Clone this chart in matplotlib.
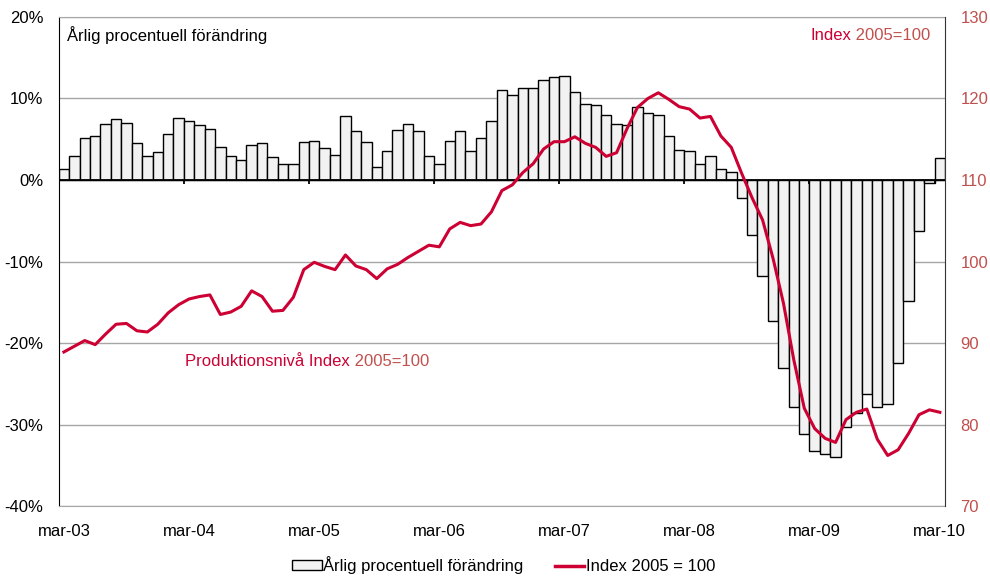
import numpy as np
import matplotlib
matplotlib.use("Agg")
import matplotlib.pyplot as plt
from matplotlib.patches import Patch
from matplotlib.lines import Line2D

plt.rcParams['font.family'] = ['Liberation Sans', 'DejaVu Sans']
plt.rcParams['font.size'] = 12

# Data: monthly values mar-03 .. mar-10
tick_labels = ['mar-03', 'mar-04', 'mar-05', 'mar-06', 'mar-07', 'mar-08', 'mar-09', 'mar-10']

arlig_forandring = [
    1.3, 3.0, 5.1, 5.4, 6.9, 7.5, 7.0, 4.5, 2.9, 3.4, 5.7, 7.6,
    7.2, 6.8, 6.3, 4.1, 3.0, 2.5, 4.3, 4.5, 2.8, 2.0, 2.0, 4.7,
    4.8, 3.9, 3.1, 7.8, 6.0, 4.7, 1.6, 3.6, 6.1, 6.9, 6.0, 3.0,
    2.0, 4.8, 6.0, 3.6, 5.2, 7.3, 11.1, 10.4, 11.3, 11.3, 12.3, 12.6,
    12.7, 10.8, 9.3, 9.2, 8.0, 6.9, 6.7, 8.9, 8.2, 7.95, 5.4, 3.7,
    3.5, 2.0, 2.95, 1.3, 0.95, -2.25, -6.8, -11.8, -17.3, -23.1, -27.8, -31.2,
    -33.2, -33.6, -34.0, -30.3, -28.6, -26.3, -27.8, -27.5, -22.5, -14.8, -6.2, -0.4,
    2.7,
]

index_2005 = [
    88.9, 89.6, 90.3, 89.8, 91.1, 92.3, 92.4, 91.5, 91.35, 92.3, 93.7, 94.7,
    95.4, 95.7, 95.9, 93.5, 93.8, 94.5, 96.4, 95.7, 93.9, 94.0, 95.6, 99.0,
    99.9, 99.4, 99.0, 100.8, 99.45, 99.0, 97.9, 99.1, 99.65, 100.5, 101.25, 102.0,
    101.8, 104.0, 104.8, 104.4, 104.6, 106.1, 108.7, 109.4, 110.9, 112.0, 113.8, 114.7,
    114.7, 115.3, 114.5, 114.0, 112.9, 113.35, 116.3, 118.9, 120.0, 120.7, 119.9, 119.0,
    118.7, 117.6, 117.8, 115.4, 114.0, 110.8, 107.8, 105.1, 100.4, 94.9, 87.9, 82.0,
    79.5, 78.3, 77.8, 80.6, 81.5, 81.9, 78.2, 76.2, 76.9, 78.9, 81.2, 81.8,
    81.5,
]

RED = '#CC0033'
SALMON = '#C0504D'
GRID = '#A6A6A6'

x = np.arange(len(arlig_forandring))

fig = plt.figure(figsize=(9.9, 5.76), dpi=100)
ax = fig.add_axes([0.0593, 0.1215, 0.8953, 0.849])
ax2 = ax.twinx()

# Bars
ax.bar(x, arlig_forandring, width=1.0, color='#F2F2F2', edgecolor='black', linewidth=1.0, zorder=2)
ax.set_xlim(-0.5, len(x) - 0.5)
ax.set_ylim(-40, 20)
ax.set_yticks(np.arange(-40, 21, 10))
ax.set_yticklabels([f'{v}%' for v in range(-40, 21, 10)])
ax.set_axisbelow(True)
ax.grid(axis='y', color=GRID, linewidth=1.0)
ax.set_xticks(x[::12])
ax.set_xticklabels(tick_labels)
ax.tick_params(axis='x', length=0, pad=13)
ax.tick_params(axis='y', length=0, pad=11)

# zero line with year ticks
ax.axhline(0, color='black', linewidth=1.3, zorder=3)
ax.vlines(np.arange(11.5, len(x), 12), -0.5, 0, color='black', linewidth=1.3, zorder=3)

for side in ['top', 'bottom']:
    ax.spines[side].set_color(GRID)
    ax2.spines[side].set_visible(False)
ax.spines['left'].set_color('black')
ax.spines['right'].set_visible(False)
ax2.spines['left'].set_visible(False)
ax2.spines['right'].set_color('#333333')

# Index line
ax2.plot(x, index_2005, color=RED, linewidth=2.2, zorder=4)
ax2.set_ylim(70, 130)
ax2.set_yticks(np.arange(70, 131, 10))
ax2.tick_params(axis='y', length=0, pad=11, labelcolor=SALMON)

# Texts
ax.text(0.0094, 0.963, 'Årlig procentuell förändring', transform=ax.transAxes,
        ha='left', va='center', color='black')
t1 = ax.text(0.8477, 0.963, 'Index', transform=ax.transAxes,
             ha='left', va='center', color=RED)
ax.annotate(' 2005=100', xy=(1, 0), xycoords=t1, ha='left', va='bottom', color=SALMON)
t2 = ax.text(0.1425, 0.295, 'Produktionsnivå Index', transform=ax.transAxes,
             ha='left', va='center', color=RED)
ax.annotate(' 2005=100', xy=(1, 0), xycoords=t2, ha='left', va='bottom', color=SALMON)

# Legend
handles = [Patch(facecolor='#F2F2F2', edgecolor='black', linewidth=1.0),
           Line2D([0], [0], color=RED, linewidth=2.5)]
fig.legend(handles, ['Årlig procentuell förändring', 'Index 2005 = 100'],
           loc='center', bbox_to_anchor=(0.509, 1 - 565 / 576), ncol=2, frameon=False,
           handlelength=1.75, handleheight=0.5, handletextpad=0.1, columnspacing=1.9,
           borderaxespad=0, borderpad=0)

fig.savefig('out.png', dpi=100)
